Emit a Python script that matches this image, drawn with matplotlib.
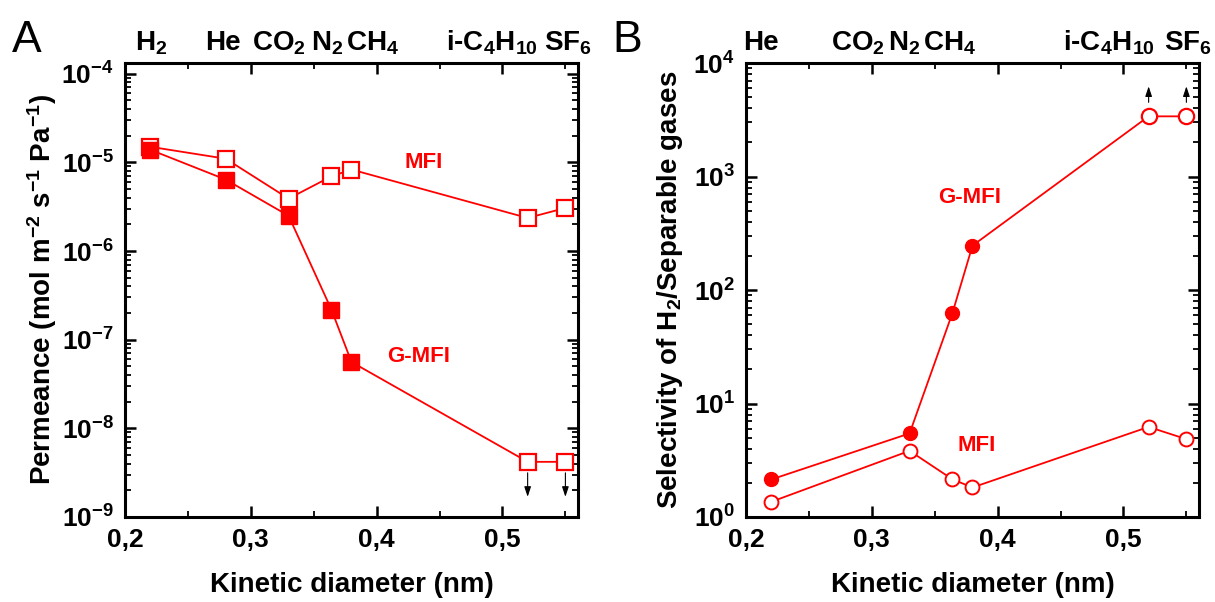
import matplotlib
matplotlib.use('Agg')
import matplotlib.pyplot as plt
from matplotlib.ticker import FuncFormatter, MultipleLocator, LogLocator, NullFormatter
from matplotlib.transforms import offset_copy

plt.rcParams['font.family'] = ['Liberation Sans', 'DejaVu Sans']
plt.rcParams['font.weight'] = 'bold'
plt.rcParams['axes.labelweight'] = 'bold'
plt.rcParams['mathtext.fontset'] = 'custom'
plt.rcParams['mathtext.rm'] = 'Liberation Sans:bold'
plt.rcParams['mathtext.it'] = 'Liberation Sans:bold'
plt.rcParams['mathtext.bf'] = 'Liberation Sans:bold'
plt.rcParams['mathtext.default'] = 'rm'

red = '#ff0000'

# kinetic diameters (nm)
d_all = [0.22, 0.28, 0.33, 0.364, 0.38, 0.52, 0.55]
d_sel = [0.22, 0.33, 0.364, 0.38, 0.52, 0.55]

# panel A: permeance
perm_mfi = [1.5e-5, 1.1e-5, 3.9e-6, 6.95e-6, 8.3e-6, 2.36e-6, 3.06e-6]
perm_gmfi = [1.39e-5, 6.4e-6, 2.5e-6, 2.19e-7, 5.6e-8, 4.19e-9, 4.19e-9]
n_meas_a = 5  # last two G-MFI points are detection limits (open)

# panel B: selectivity H2 / gas
sel_mfi = [1.36, 3.83, 2.15, 1.82, 6.22, 4.85]
sel_gmfi = [2.14, 5.45, 62.4, 246, 3390, 3390]
n_meas_b = 4

# gas names on top
gas_a = ['H$_2$', 'He', 'CO$_2$', 'N$_2$', 'CH$_4$', 'i-C$_4$H$_{10}$', 'SF$_6$']
gas_a_x = [0.2206, 0.278, 0.322, 0.361, 0.397, 0.4915, 0.552]
gas_b = ['He', 'CO$_2$', 'N$_2$', 'CH$_4$', 'i-C$_4$H$_{10}$', 'SF$_6$']
gas_b_x = [0.212, 0.289, 0.326, 0.362, 0.4886, 0.551]

fig = plt.figure(figsize=(12.15, 6.02), dpi=100)
axA = fig.add_axes([0.1029, 0.1412, 0.3728, 0.7541])
axB = fig.add_axes([0.6140, 0.1412, 0.3728, 0.7541])

comma = FuncFormatter(lambda v, p: ('%.1f' % v).replace('.', ','))


def style(ax):
    ax.set_xlim(0.2, 0.56)
    ax.xaxis.set_major_locator(MultipleLocator(0.1))
    ax.xaxis.set_minor_locator(MultipleLocator(0.05))
    ax.xaxis.set_major_formatter(comma)
    ax.set_yscale('log')
    ax.yaxis.set_major_locator(LogLocator(base=10, numticks=20))
    ax.yaxis.set_minor_locator(LogLocator(base=10, subs=range(2, 10), numticks=20))
    ax.yaxis.set_minor_formatter(NullFormatter())
    ax.tick_params(which='both', direction='in', top=True, right=True)
    ax.tick_params(which='major', length=8, width=1.8, labelsize=19, pad=8)
    ax.tick_params(which='minor', length=4, width=1.3)
    for s in ax.spines.values():
        s.set_linewidth(2.2)
    ax.set_xlabel('Kinetic diameter (nm)', fontsize=20, labelpad=14)


def arrow(ax, x, y, head, tail):
    # head / tail offsets in pixels from the marker (positive = up)
    ax.annotate('', xy=(x, y), xycoords=offset_copy(ax.transData, fig=fig, y=head, units='dots'),
                xytext=(0, tail - head), textcoords='offset pixels',
                arrowprops=dict(arrowstyle='-|>,head_length=0.6,head_width=0.2', color='black',
                                lw=0.8, shrinkA=0, shrinkB=0))


# ---- panel A ----
style(axA)
axA.set_ylim(1e-9, 1.32e-4)
axA.plot(d_all, perm_mfi, '-', color=red, lw=1.3, marker='s', ms=11,
         mfc='white', mec=red, mew=1.6)
axA.plot(d_all, perm_gmfi, '-', color=red, lw=1.3)
axA.plot(d_all[:n_meas_a], perm_gmfi[:n_meas_a], 's', ms=11, mfc=red, mec=red)
axA.plot(d_all[n_meas_a:], perm_gmfi[n_meas_a:], 's', ms=11, mfc='white', mec=red, mew=1.6)
for x, y in zip(d_all[n_meas_a:], perm_gmfi[n_meas_a:]):
    arrow(axA, x, y, -35, -11)
axA.text(0.4375, 1.0e-5, 'MFI', color=red, fontsize=16, ha='center', va='center')
axA.text(0.4335, 6.4e-8, 'G-MFI', color=red, fontsize=16, ha='center', va='center')
axA.set_ylabel('Permeance (mol m$^{-2}$ s$^{-1}$ Pa$^{-1}$)', fontsize=20, labelpad=2)

# ---- panel B ----
style(axB)
axB.set_ylim(1, 1e4)
axB.plot(d_sel, sel_mfi, '-', color=red, lw=1.3, marker='o', ms=10,
         mfc='white', mec=red, mew=1.4)
axB.plot(d_sel, sel_gmfi, '-', color=red, lw=1.3)
axB.plot(d_sel[:n_meas_b], sel_gmfi[:n_meas_b], 'o', ms=10, mfc=red, mec=red)
axB.plot(d_sel[n_meas_b:], sel_gmfi[n_meas_b:], 'o', ms=11, mfc='white', mec=red, mew=1.6)
for x, y in zip(d_sel[n_meas_b:], sel_gmfi[n_meas_b:]):
    arrow(axB, x, y, 30, 14)
axB.text(0.3777, 656, 'G-MFI', color=red, fontsize=16, ha='center', va='center')
axB.text(0.3836, 4.3, 'MFI', color=red, fontsize=16, ha='center', va='center')
axB.set_ylabel('Selectivity of H$_2$/Separable gases', fontsize=20, labelpad=6)

# gas names above the axes
y_gas = 1 + 13 / (0.7541 * 602)
for ax, names, xs in [(axA, gas_a, gas_a_x), (axB, gas_b, gas_b_x)]:
    for name, x in zip(names, xs):
        ax.text(x, y_gas, name, transform=ax.get_xaxis_transform(), fontsize=20,
                ha='center', va='baseline')

fig.text(12 / 1215, 1 - 52 / 602, 'A', fontsize=32, fontweight='normal', va='baseline')
fig.text(612 / 1215, 1 - 52 / 602, 'B', fontsize=32, fontweight='normal', va='baseline')

fig.savefig('out.png', dpi=100)
